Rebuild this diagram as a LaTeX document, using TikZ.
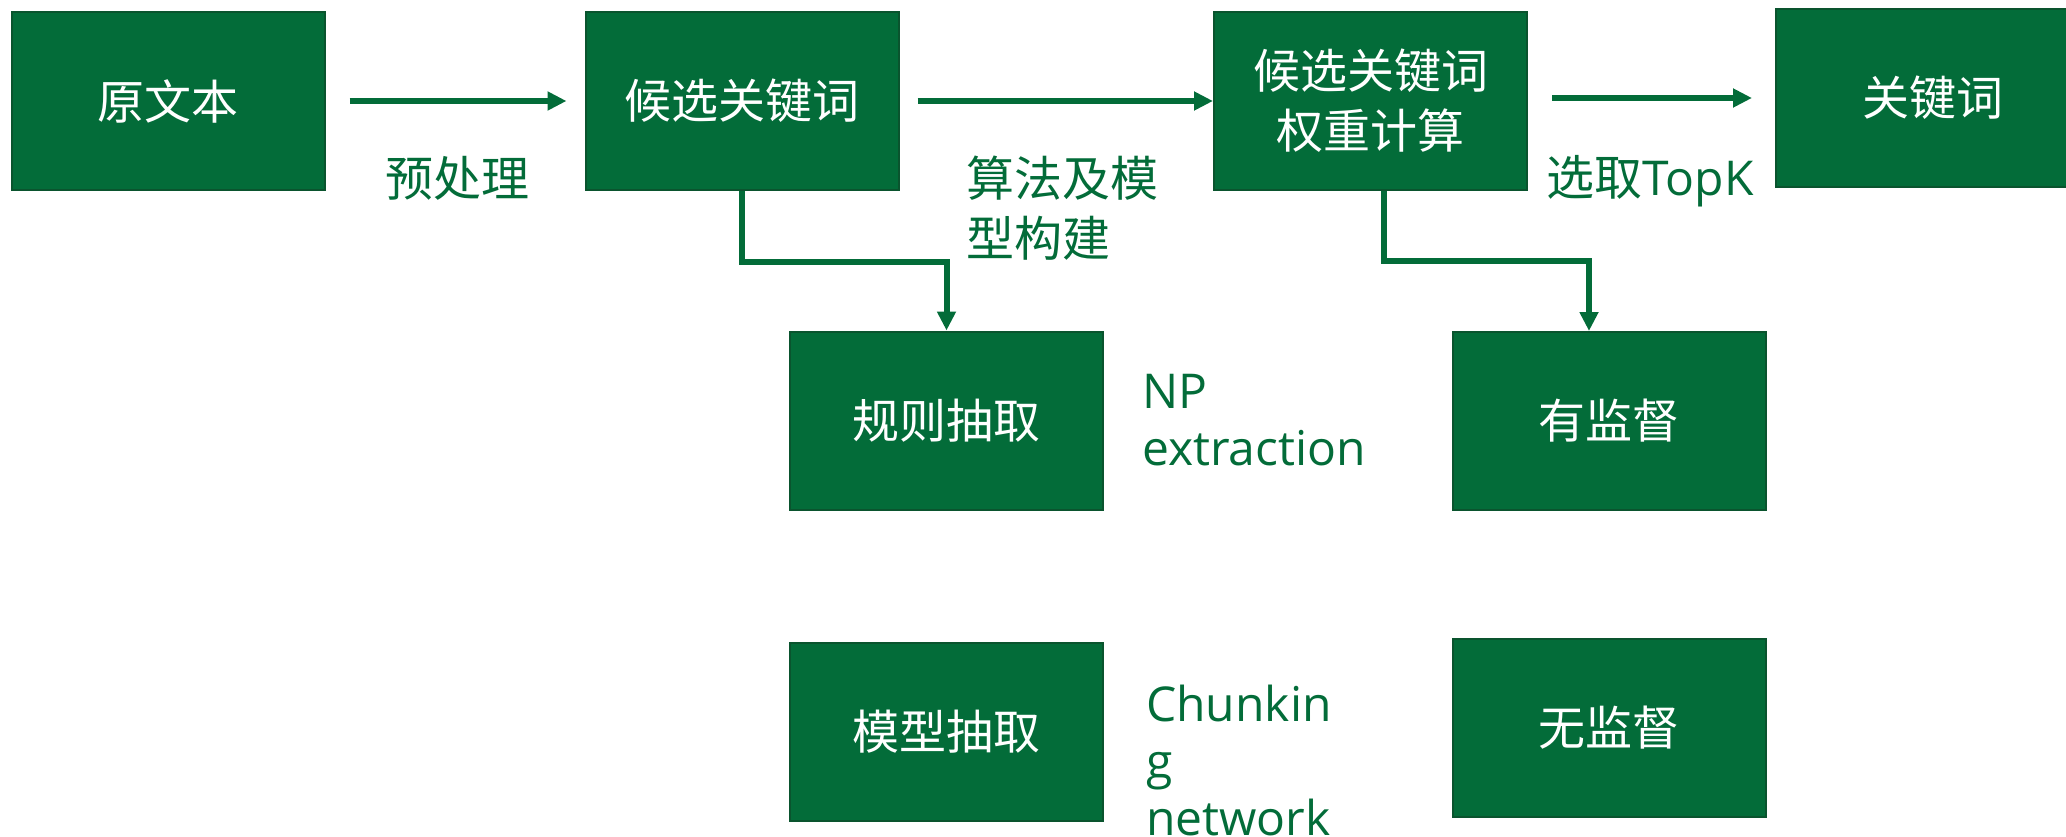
\documentclass[tikz,border=0pt]{standalone}
\usepackage{fontspec}
\setmainfont{Open Sans}
\newfontfamily\cjk{Noto Sans CJK SC}
\newfontfamily\lat{Open Sans}
\usetikzlibrary{arrows.meta}
\definecolor{gfill}{RGB}{3,108,57}
\definecolor{gdraw}{RGB}{10,84,46}
\begin{document}
\begin{tikzpicture}[x=1pt,y=-1pt,
  box/.style={draw=gdraw, line width=2pt, fill=gfill, minimum width=313pt, minimum height=178pt,
    inner sep=0pt, text=white, font=\cjk\fontsize{47}{60}\selectfont, align=center},
  arr/.style={draw=gfill, line width=6pt, -{Triangle[length=19pt,width=18pt]}},
  lbl/.style={text=gfill, inner sep=0pt, align=left, font=\lat\fontsize{48}{57}\selectfont},
  lblc/.style={text=gfill, inner sep=0pt, align=left, font=\cjk\fontsize{48}{60}\selectfont}]
\clip (0,0) rectangle (2066,837);
% boxes
\node[box] (a) at (168,101) {原文本};
\node[box] (b) at (742,101) {候选关键词};
\node[box] (c) at (1370.5,101) {候选关键词\\权重计算};
\node[box] (d) at (1932.5,98) {关键词};
\node[box] (r) at (946.5,420.5) {规则抽取};
\node[box] (m) at (946.5,732) {模型抽取};
\node[box] (s) at (1609,421) {有监督};
\node[box] (u) at (1609,727.5) {无监督};
% connectors
\draw[arr, shorten <=24pt, shorten >=18pt] (a) -- (b);
\draw[arr, shorten <=18pt] (b) -- (c);
\draw[arr, shorten <=24pt, shorten >=23pt] (c.east |- d.west) -- (d.west);
\draw[arr] (b.south) -- ++(0,71) -| (r.north);
\draw[arr] ([xshift=13.5pt]c.south) -- ++(0,70) -| ([xshift=-20pt]s.north);
% labels
\node[lblc] (l1) at (457,178) {预处理};
\node[lblc, anchor=west] (l2) at (966,208) {算法及模\\型构建};
\node[lblc] (l3) at (1650,181) {选取{\lat TopK}};
\node[lbl, anchor=west] (l4) at (1142,420) {NP\\extraction};
\node[lbl, anchor=west] (l5) at (1146,760) {Chunkin\\g\\network};
\end{tikzpicture}
\end{document}
